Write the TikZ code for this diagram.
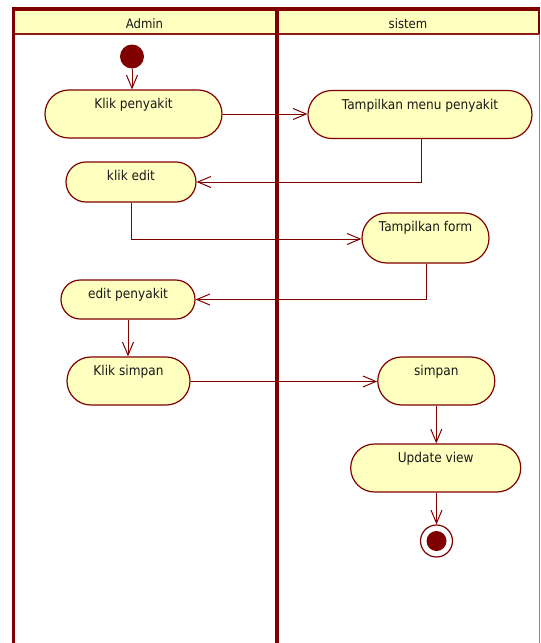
\documentclass[tikz,border=0pt]{standalone}
\usepackage{fontspec}
\setmainfont{DejaVu Sans}[FakeStretch=0.9]
\usetikzlibrary{arrows.meta}
\definecolor{umlred}{RGB}{128,0,0}
\definecolor{umlfill}{RGB}{255,255,192}
\begin{document}
\begin{tikzpicture}[x=1pt,y=-1pt,
  act/.style={draw=umlred, fill=umlfill, line width=1.2pt, inner sep=0pt, rectangle},
  lbl/.style={inner sep=0pt, anchor=base, font=\fontsize{13.5}{15}\selectfont, text=black!90},
  hdr/.style={inner sep=0pt, anchor=base, font=\fontsize{13}{15}\selectfont, text=black!90},
  arr/.style={draw=umlred, line width=1pt, -{Straight Barb[length=13pt,width=11pt,line width=1pt]}},
  ln/.style={draw=umlred, line width=1pt}]
\useasboundingbox (0,0) rectangle (541,643);
% frame
\fill[umlfill] (13,8) rectangle (539,34);
\draw[umlred!55, line width=1pt] (539.5,34) -- (539.5,643);
\draw[umlred, line width=2pt] (539.3,8) -- (539.3,34);
\draw[umlred!90!white, line width=2pt] (13,33.5) -- (539,33.5);
\draw[umlred, line width=3.3pt] (11.5,9) -- (540.3,9);
\draw[umlred, line width=3pt] (13.3,8) -- (13.3,643);
\draw[umlred, line width=4.5pt] (276.8,8) -- (276.8,643);
\node[hdr] (hadmin) at (144.5,28.5) {Admin};
\node[hdr] (hsistem) at (408,28.5) {sistem};
% nodes
\node[circle, fill=umlred, minimum size=24pt, inner sep=0pt] (init) at (132,56.5) {};
\node[act, minimum width=177pt, minimum height=48pt, rounded corners=23.9pt] (kp) at (133.5,114) {};
\node[act, minimum width=224pt, minimum height=48pt, rounded corners=23.9pt] (tm) at (420,114.5) {};
\node[act, minimum width=130pt, minimum height=40pt, rounded corners=19.9pt] (ke) at (131,182) {};
\node[act, minimum width=127pt, minimum height=50pt, rounded corners=24.9pt] (tf) at (425.5,238) {};
\node[act, minimum width=134pt, minimum height=39pt, rounded corners=19.4pt] (ep) at (128,299.5) {};
\node[act, minimum width=123pt, minimum height=48pt, rounded corners=23.9pt] (ks) at (128.5,381) {};
\node[act, minimum width=117pt, minimum height=48pt, rounded corners=23.9pt] (sp) at (436.3,381) {};
\node[act, minimum width=170pt, minimum height=48pt, rounded corners=23.9pt] (uv) at (435.7,468) {};
\node[circle, draw=umlred, fill=white, line width=1.2pt, minimum size=32pt, inner sep=0pt] (fin) at (436.5,541) {};
\fill[umlred] (fin.center) circle (10);
% labels
\node[lbl] (kpt) at ([yshift=-19.5pt]kp.north) {Klik penyakit};
\node[lbl] (tmt) at ([yshift=-19.5pt]tm.north) {Tampilkan menu penyakit};
\node[lbl] (ket) at ([yshift=-19pt]ke.north) {klik edit};
\node[lbl] (tft) at ([yshift=-19pt]tf.north) {Tampilkan form};
\node[lbl] (ept) at ([yshift=-19pt]ep.north) {edit penyakit};
\node[lbl] (kst) at ([yshift=-19.5pt]ks.north) {Klik simpan};
\node[lbl] (spt) at ([yshift=-19.5pt]sp.north) {simpan};
\node[lbl] (uvt) at ([yshift=-19.5pt]uv.north) {Update view};
% connectors
\draw[arr] (init) -- (init |- kp.north);
\draw[arr] (kp.east) -- (kp.east -| tm.west);
\draw[arr] ([xshift=1pt]tm.south) |- (ke.east);
\draw[arr] (ke.south) |- ([yshift=-1pt]tf.west);
\draw[arr] ([xshift=0.5pt]tf.south) |- (ep.east);
\draw[arr] (ep.south) -- (ep.south |- ks.north);
\draw[arr] ([yshift=-0.5pt]ks.east) -- ([yshift=-0.5pt]ks.east -| sp.west);
\draw[arr] (sp.south) -- (sp.south |- uv.north);
\draw[arr] (uv.south -| fin.north) -- (fin.north);
\end{tikzpicture}
\end{document}
